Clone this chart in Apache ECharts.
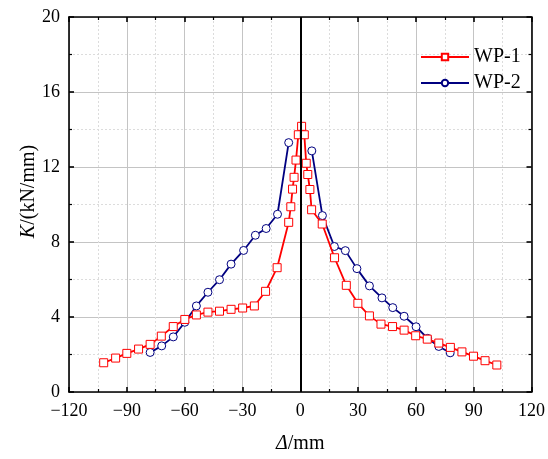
<!DOCTYPE html>
<html>
<head>
<meta charset="utf-8">
<script src="https://cdn.jsdelivr.net/npm/echarts@6/dist/echarts.min.js"></script>
<style>
html,body{margin:0;padding:0;background:#fff;}
#c{width:548px;height:459px;}
</style>
</head>
<body>
<div id="c"></div>
<script>
// ---- data ----
var wp1X = [-102.0, -95.8, -90.0, -83.9, -77.9, -72.1, -65.9, -59.9, -53.9, -47.9, -41.9, -35.9, -29.9, -23.8, -18.0, -12.0, -6.0, -4.9, -4.0, -3.2, -2.2, -1.0, 0.7, 2.1, 3.1, 3.9, 5.0, 5.9, 11.4, 17.8, 23.9, 29.9, 35.9, 41.9, 47.9, 53.9, 59.9, 65.9, 71.9, 77.9, 83.9, 89.9, 95.9, 102.0];
var wp1Y = [1.56, 1.81, 2.06, 2.29, 2.54, 2.98, 3.49, 3.87, 4.11, 4.26, 4.31, 4.41, 4.48, 4.59, 5.37, 6.63, 9.05, 9.88, 10.82, 11.45, 12.37, 13.72, 14.17, 13.72, 12.2, 11.6, 10.8, 9.72, 8.96, 7.16, 5.69, 4.73, 4.06, 3.62, 3.49, 3.30, 3.00, 2.82, 2.61, 2.38, 2.14, 1.91, 1.67, 1.44];

var wp2LeftX = [-77.9, -71.9, -65.9, -59.9, -53.9, -47.9, -41.9, -35.9, -29.4, -23.3, -17.7, -11.8, -6.0];
var wp2LeftY = [2.11, 2.46, 2.94, 3.72, 4.59, 5.32, 5.99, 6.82, 7.55, 8.36, 8.72, 9.48, 13.3];
var wp2RightX = [6.0, 11.5, 17.7, 23.4, 29.4, 35.9, 42.4, 48.0, 53.9, 60.1, 66.1, 71.9, 77.8];
var wp2RightY = [12.86, 9.41, 7.76, 7.54, 6.58, 5.66, 5.02, 4.50, 4.04, 3.48, 2.86, 2.43, 2.09];

var seriesNames = ['WP-1', 'WP-2'];
var xTicks = {min: -120, max: 120, step: 30};
var yTicks = {min: 0, max: 20, step: 4};

function pairs(xs, ys) { return xs.map(function (x, i) { return [x, ys[i]]; }); }

var FONT = '"Liberation Serif", "Times New Roman", serif';
var RED = '#ff0000', BLUE = '#000080';

function fmt(v) { return String(v).replace('-', '\u2212'); }

var axisCommon = {
  axisLine: {show: true, onZero: false, lineStyle: {color: '#000', width: 1.6}},
  axisTick: {show: true, inside: true, length: 5, lineStyle: {color: '#000', width: 1.6}},
  minorTick: {show: true, splitNumber: 2, length: 3, lineStyle: {color: '#000', width: 1.2}}
};

function mkAxis(base, extra) {
  var o = JSON.parse(JSON.stringify(axisCommon));
  for (var k in base) o[k] = base[k];
  for (var k2 in extra) o[k2] = extra[k2];
  return o;
}

var chart = echarts.init(document.getElementById('c'), null, {renderer: 'canvas'});
var option = {
  animation: false,
  backgroundColor: '#fff',
  grid: {left: 69, right: 13, top: 17, bottom: 66},
  legend: {
    data: seriesNames,
    orient: 'vertical',
    left: 415, top: 42,
    itemWidth: 48, itemHeight: 8, itemGap: 6,
    textStyle: {fontFamily: FONT, fontSize: 20, color: '#000', lineHeight: 20}
  },
  xAxis: [
    mkAxis({type: 'value', min: xTicks.min, max: xTicks.max, interval: xTicks.step}, {
      position: 'bottom',
      axisLabel: {formatter: fmt, fontFamily: FONT, fontSize: 18, color: '#000', margin: 10},
      splitLine: {show: true, lineStyle: {color: '#c4c4c4', width: 1}},
      minorSplitLine: {show: true, lineStyle: {color: '#dcdcdc', width: 1, type: [2, 2]}},
      name: '{i|\u0394}/mm',
      nameLocation: 'middle', nameGap: 42,
      nameTextStyle: {fontFamily: FONT, fontSize: 20, color: '#000',
        rich: {i: {fontFamily: FONT, fontSize: 20, fontStyle: 'italic', color: '#000'}}}
    }),
    mkAxis({type: 'value', min: xTicks.min, max: xTicks.max, interval: xTicks.step}, {
      position: 'top',
      axisLabel: {show: false},
      splitLine: {show: false}
    })
  ],
  yAxis: [
    mkAxis({type: 'value', min: yTicks.min, max: yTicks.max, interval: yTicks.step}, {
      position: 'left',
      axisLabel: {fontFamily: FONT, fontSize: 18, color: '#000', margin: 9},
      splitLine: {show: true, lineStyle: {color: '#c4c4c4', width: 1}},
      minorSplitLine: {show: true, lineStyle: {color: '#dcdcdc', width: 1, type: [2, 2]}},
      name: '{i|K}/(kN/mm)',
      nameLocation: 'middle', nameGap: 30, nameMoveOverlap: false,
      nameTextStyle: {fontFamily: FONT, fontSize: 20, color: '#000', padding: [0, 0, 0, 26],
        rich: {i: {fontFamily: FONT, fontSize: 20, fontStyle: 'italic', color: '#000'}}}
    }),
    mkAxis({type: 'value', min: yTicks.min, max: yTicks.max, interval: yTicks.step}, {
      position: 'right',
      axisLabel: {show: false},
      splitLine: {show: false}
    })
  ],
  series: [
    {
      name: seriesNames[0], type: 'line', data: pairs(wp1X, wp1Y),
      symbol: 'rect', symbolSize: 8, showAllSymbol: true,
      lineStyle: {color: RED, width: 1.8},
      itemStyle: {color: '#fff', borderColor: RED, borderWidth: 1},
      z: 3,
      markLine: {
        silent: true, symbol: 'none', animation: false,
        label: {show: false},
        lineStyle: {color: '#000', width: 2, type: 'solid'},
        data: [{xAxis: 0}]
      }
    },
    {
      name: seriesNames[1], type: 'line', data: pairs(wp2LeftX, wp2LeftY),
      symbol: 'circle', symbolSize: 8, showAllSymbol: true,
      lineStyle: {color: BLUE, width: 1.8},
      itemStyle: {color: '#fff', borderColor: BLUE, borderWidth: 1},
      z: 2
    },
    {
      name: seriesNames[1], type: 'line', data: pairs(wp2RightX, wp2RightY),
      symbol: 'circle', symbolSize: 8, showAllSymbol: true,
      lineStyle: {color: BLUE, width: 1.8},
      itemStyle: {color: '#fff', borderColor: BLUE, borderWidth: 1},
      z: 2
    }
  ]
};
chart.setOption(option);
</script>
</body>
</html>
